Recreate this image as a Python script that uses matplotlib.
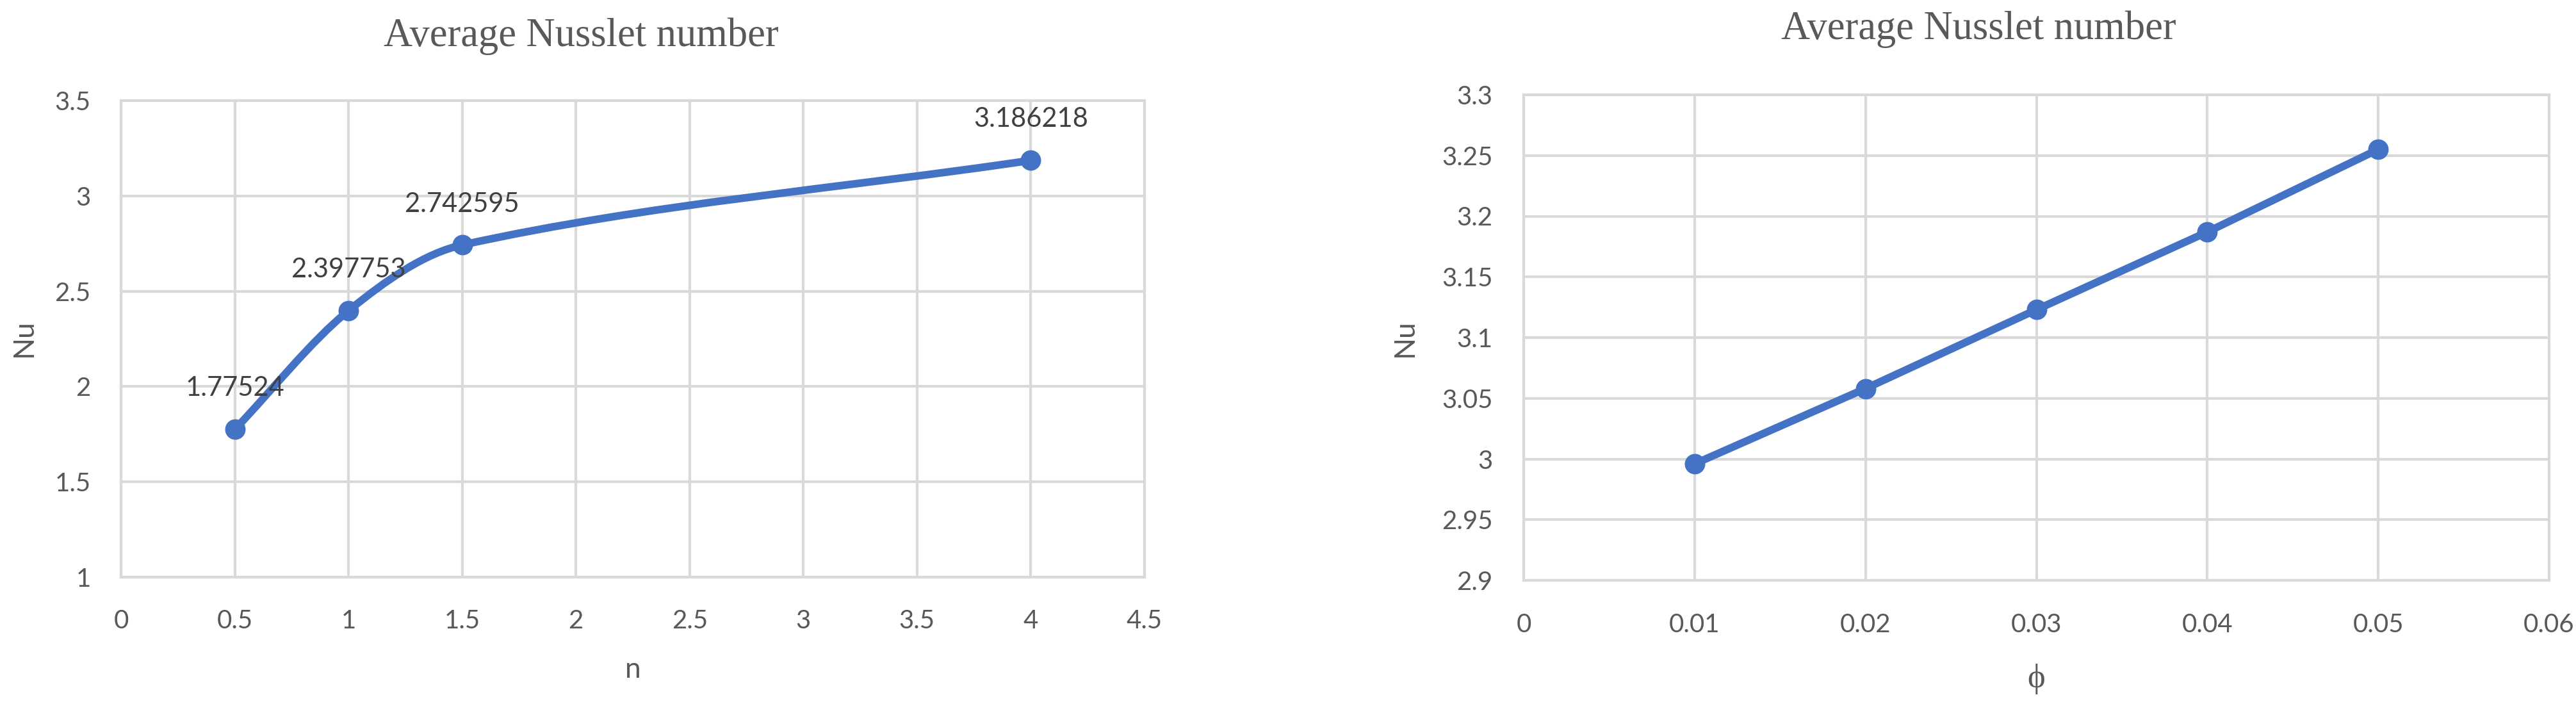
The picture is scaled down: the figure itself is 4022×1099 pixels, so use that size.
import numpy as np
import matplotlib
matplotlib.use("Agg")
import matplotlib.pyplot as plt
from matplotlib.path import Path
from matplotlib.patches import PathPatch

# ---- data
n_vals = [0.5, 1.0, 1.5, 4.0]
nu_n = [1.77524, 2.397753, 2.742595, 3.186218]
n_labels = ["1.77524", "2.397753", "2.742595", "3.186218"]

phi_vals = [0.01, 0.02, 0.03, 0.04, 0.05]
nu_phi = [2.996, 3.058, 3.123, 3.187, 3.255]

BLUE = "#4472C4"
GRID = "#D9D9D9"
TXT = "#595959"
LBL = "#404040"
W, H, DPI = 4022, 1099, 100


def smooth_path(x, y):
    """Smoothed line through the points: cubic Hermite (Bezier) segments,
    tangent at each point from its neighbours, chord slope at the ends."""
    x = np.asarray(x, float)
    y = np.asarray(y, float)
    m = np.empty_like(y)
    m[1:-1] = (y[2:] - y[:-2]) / (x[2:] - x[:-2])
    m[0] = (y[1] - y[0]) / (x[1] - x[0])
    m[-1] = (y[-1] - y[-2]) / (x[-1] - x[-2])
    verts, codes = [(x[0], y[0])], [Path.MOVETO]
    for i in range(len(x) - 1):
        h = (x[i + 1] - x[i]) / 3.0
        verts += [(x[i] + h, y[i] + m[i] * h),
                  (x[i + 1] - h, y[i + 1] - m[i + 1] * h),
                  (x[i + 1], y[i + 1])]
        codes += [Path.CURVE4] * 3
    return Path(verts, codes)


def style_axes(ax, xticks, yticks, xpad, ypad):
    ax.set_xlim(xticks[0], xticks[-1])
    ax.set_ylim(yticks[0], yticks[-1])
    ax.set_xticks(xticks)
    ax.set_yticks(yticks)
    ax.set_xticklabels([fmt(v) for v in xticks])
    ax.set_yticklabels([fmt(v) for v in yticks])
    ax.grid(True, color=GRID, lw=3, zorder=0)
    ax.set_axisbelow(True)
    for s in ax.spines.values():
        s.set_color(GRID)
        s.set_linewidth(3)
    ax.tick_params(axis="x", length=0, pad=xpad, labelsize=29, labelcolor=TXT)
    ax.tick_params(axis="y", length=0, pad=ypad, labelsize=29, labelcolor=TXT)
    for t in ax.get_xticklabels() + ax.get_yticklabels():
        t.set_family("Lato")


def fmt(v):
    return f"{v:.2f}".rstrip("0").rstrip(".")


fig = plt.figure(figsize=(W / DPI, H / DPI), dpi=DPI)

# ---- left panel: Nu vs n
ax1 = fig.add_axes([189 / W, 1 - 901 / H, (1787 - 189) / W, (901 - 157) / H])
style_axes(ax1, [0, 0.5, 1, 1.5, 2, 2.5, 3, 3.5, 4, 4.5],
           [1, 1.5, 2, 2.5, 3, 3.5], 36, 34)
ax1.add_patch(PathPatch(smooth_path(n_vals, nu_n), fc="none", ec=BLUE,
                        lw=8.6, capstyle="round", joinstyle="round", zorder=3))
ax1.plot(n_vals, nu_n, ls="none", marker="o", ms=22, color=BLUE, zorder=4)
for x, y, s in zip(n_vals, nu_n, n_labels):
    ax1.annotate(s, (x, y), xytext=(0, 46), textcoords="offset points",
                 ha="center", va="center", fontsize=30, color=LBL,
                 family="Lato", zorder=5)

# ---- right panel: Nu vs phi
ax2 = fig.add_axes([2379 / W, 1 - 906 / H, (3980 - 2379) / W, (906 - 148) / H])
style_axes(ax2, [0, 0.01, 0.02, 0.03, 0.04, 0.05, 0.06],
           [2.9, 2.95, 3.0, 3.05, 3.1, 3.15, 3.2, 3.25, 3.3], 37, 35)
ax2.plot(phi_vals, nu_phi, color=BLUE, lw=8.6, marker="o", ms=22,
         solid_capstyle="round", zorder=3)

# ---- titles and axis labels
for xc, yc in [(907, 57), (3089, 46)]:
    fig.text(xc / W, 1 - yc / H, "Average Nusslet number", ha="center",
             va="center", fontsize=45, color=TXT, family="Liberation Serif")
fig.text(37 / W, 1 - 528 / H, "Nu", rotation=90, ha="center", va="center",
         fontsize=32, color=TXT, family="Lato")
fig.text(2193 / W, 1 - 528 / H, "Nu", rotation=90, ha="center", va="center",
         fontsize=32, color=TXT, family="Lato")
fig.text(988 / W, 1 - 1046 / H, "n", ha="center", va="center",
         fontsize=32, color=TXT, family="Lato")
fig.text(3179 / W, 1 - 1060 / H, "ϕ", ha="center", va="center",
         fontsize=38, color=TXT, family=["Liberation Serif", "DejaVu Serif"])

fig.savefig("out.png", dpi=DPI, facecolor="white")
